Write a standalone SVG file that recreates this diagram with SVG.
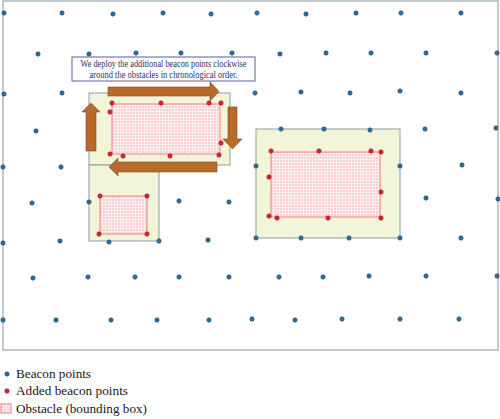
<svg xmlns="http://www.w3.org/2000/svg" width="500" height="419" viewBox="0 0 500 419">
<defs>
<pattern id="grid" width="3" height="3" patternUnits="userSpaceOnUse">
<rect width="3" height="3" fill="#fbcfd2"/>
<path d="M0 0.5H3M0.5 0V3" stroke="#fff4f4" stroke-width="0.9"/>
</pattern>
<style>
.frame{fill:#fff;stroke:#aab8c2;stroke-width:1.5}
.box{fill:#f3f5d9;stroke:#8d9ca3;stroke-width:1}
.obs{fill:url(#grid);stroke:#f07f85;stroke-width:1}
.b{fill:#2d6e9b;stroke:#1d4a6b;stroke-width:0.6}
.r{fill:#e3202c;stroke:#8a1a20;stroke-width:0.6}
.arrow{fill:#b76a29;stroke:#7d4a1e;stroke-width:0.6}
.note{fill:#fff;stroke:#5c5f9a;stroke-width:1}
.nt{font-family:"Liberation Serif",serif;font-size:9.5px;fill:#2b3066;text-anchor:middle}
.lg{font-family:"Liberation Serif",serif;font-size:13px;fill:#1a1718}
</style>
</defs>
<rect class="frame" x="3" y="1" width="495" height="349"/>
<g id="obstacle-box-upper"><rect class="box" x="89" y="93" width="141" height="72"/></g>
<g id="obstacle-box-lower"><rect class="box" x="89" y="165" width="70" height="76"/></g>
<g id="obstacle-box-right"><rect class="box" x="256" y="129" width="144" height="109"/></g>
<g id="obstacle-upper"><rect class="obs" x="112" y="104" width="108" height="50"/></g>
<g id="obstacle-lower"><rect class="obs" x="100" y="196" width="47" height="38"/></g>
<g id="obstacle-right"><rect class="obs" x="271" y="152" width="109" height="65"/></g>
<g id="beacons">
<circle class="b" cx="4" cy="13" r="2.2"/><circle class="b" cx="62" cy="13" r="2.2"/><circle class="b" cx="113" cy="14" r="2.2"/><circle class="b" cx="163" cy="13" r="2.2"/><circle class="b" cx="211" cy="14" r="2.2"/><circle class="b" cx="257" cy="13" r="2.2"/><circle class="b" cx="306" cy="14" r="2.2"/><circle class="b" cx="356" cy="13" r="2.2"/><circle class="b" cx="401" cy="13" r="2.2"/><circle class="b" cx="461" cy="13" r="2.2"/>
<circle class="b" cx="38" cy="54" r="2.2"/><circle class="b" cx="89" cy="54" r="2.2"/><circle class="b" cx="136" cy="53" r="2.2"/><circle class="b" cx="181" cy="53" r="2.2"/><circle class="b" cx="232" cy="53" r="2.2"/><circle class="b" cx="280" cy="54" r="2.2"/><circle class="b" cx="326" cy="53" r="2.2"/><circle class="b" cx="371" cy="53" r="2.2"/><circle class="b" cx="426" cy="53" r="2.2"/><circle class="b" cx="497" cy="53" r="2.2"/>
<circle class="b" cx="4" cy="94" r="2.2"/><circle class="b" cx="62" cy="93" r="2.2"/><circle class="b" cx="255" cy="93" r="2.2"/><circle class="b" cx="301" cy="92" r="2.2"/><circle class="b" cx="350" cy="93" r="2.2"/><circle class="b" cx="400" cy="91" r="2.2"/><circle class="b" cx="461" cy="93" r="2.2"/>
<circle class="b" cx="36" cy="131" r="2.2"/><circle class="b" cx="281" cy="129" r="2.2"/><circle class="b" cx="324" cy="129" r="2.2"/><circle class="b" cx="370" cy="130" r="2.2"/><circle class="b" cx="425" cy="129" r="2.2"/><circle class="b" cx="496" cy="128" r="2.2"/>
<circle class="b" cx="3" cy="167" r="2.2"/><circle class="b" cx="61" cy="167" r="2.2"/><circle class="b" cx="256" cy="166" r="2.2"/><circle class="b" cx="400" cy="166" r="2.2"/><circle class="b" cx="462" cy="165" r="2.2"/>
<circle class="b" cx="32" cy="203" r="2.2"/><circle class="b" cx="89" cy="202" r="2.2"/><circle class="b" cx="179" cy="201" r="2.2"/><circle class="b" cx="229" cy="202" r="2.2"/><circle class="b" cx="426" cy="198" r="2.2"/><circle class="b" cx="498" cy="199" r="2.2"/>
<circle class="b" cx="3" cy="243" r="2.2"/><circle class="b" cx="60" cy="241" r="2.2"/><circle class="b" cx="109" cy="242" r="2.2"/><circle class="b" cx="159" cy="241" r="2.2"/><circle class="b" cx="208" cy="240" r="2.2"/><circle class="b" cx="256" cy="238" r="2.2"/><circle class="b" cx="301" cy="238" r="2.2"/><circle class="b" cx="349" cy="238" r="2.2"/><circle class="b" cx="400" cy="238" r="2.2"/><circle class="b" cx="461" cy="238" r="2.2"/>
<circle class="b" cx="33" cy="278" r="2.2"/><circle class="b" cx="88" cy="277" r="2.2"/><circle class="b" cx="135" cy="277" r="2.2"/><circle class="b" cx="179" cy="277" r="2.2"/><circle class="b" cx="229" cy="277" r="2.2"/><circle class="b" cx="279" cy="277" r="2.2"/><circle class="b" cx="323" cy="277" r="2.2"/><circle class="b" cx="369" cy="276" r="2.2"/><circle class="b" cx="426" cy="276" r="2.2"/><circle class="b" cx="497" cy="276" r="2.2"/>
<circle class="b" cx="3" cy="320" r="2.2"/><circle class="b" cx="56" cy="320" r="2.2"/><circle class="b" cx="111" cy="320" r="2.2"/><circle class="b" cx="157" cy="320" r="2.2"/><circle class="b" cx="209" cy="320" r="2.2"/><circle class="b" cx="252" cy="319" r="2.2"/><circle class="b" cx="295" cy="320" r="2.2"/><circle class="b" cx="342" cy="319" r="2.2"/><circle class="b" cx="400" cy="319" r="2.2"/><circle class="b" cx="459" cy="319" r="2.2"/>
</g>
<g id="added-beacons">
<circle class="r" cx="112" cy="103" r="2.2"/><circle class="r" cx="161" cy="103" r="2.2"/><circle class="r" cx="209" cy="103" r="2.2"/><circle class="r" cx="221" cy="103" r="2.2"/><circle class="r" cx="110" cy="112" r="2.2"/><circle class="r" cx="221" cy="143" r="2.2"/><circle class="r" cx="110" cy="154" r="2.2"/><circle class="r" cx="123" cy="156" r="2.2"/><circle class="r" cx="170" cy="156" r="2.2"/><circle class="r" cx="219" cy="155" r="2.2"/>
<circle class="r" cx="100" cy="196" r="2.2"/><circle class="r" cx="147" cy="196" r="2.2"/><circle class="r" cx="99" cy="234" r="2.2"/><circle class="r" cx="147" cy="234" r="2.2"/>
<circle class="r" cx="271" cy="151" r="2.2"/><circle class="r" cx="319" cy="151" r="2.2"/><circle class="r" cx="371" cy="151" r="2.2"/><circle class="r" cx="381" cy="152" r="2.2"/><circle class="r" cx="269" cy="177" r="2.2"/><circle class="r" cx="381" cy="192" r="2.2"/><circle class="r" cx="269" cy="216" r="2.2"/><circle class="r" cx="277" cy="218" r="2.2"/><circle class="r" cx="328" cy="218" r="2.2"/><circle class="r" cx="381" cy="218" r="2.2"/>
</g>
<g id="connectors">
<polygon class="arrow" points="108,87 210,87 210,82 219,91.5 210,101 210,96 108,96"/>
<polygon class="arrow" points="228,107 237,107 237,139 242,139 232.5,149 223,139 228,139"/>
<polygon class="arrow" points="217,162 118,162 118,158 109,167 118,176 118,172 217,172"/>
<polygon class="arrow" points="86,151 86,112 82,112 91,103 100,112 96,112 96,151"/>
</g>
<g id="note">
<rect class="note" x="72" y="57" width="183" height="24"/>
<text class="nt" x="163.5" y="67" textLength="166" lengthAdjust="spacingAndGlyphs">We deploy the additional beacon points clockwise</text>
<text class="nt" x="163.5" y="78" textLength="148" lengthAdjust="spacingAndGlyphs">around the obstacles in chronological order.</text>
</g>
<g id="legend">
<circle class="b" cx="7" cy="374" r="2.2"/>
<text class="lg" x="16" y="378" textLength="75" lengthAdjust="spacingAndGlyphs">Beacon points</text>
<circle class="r" cx="7" cy="391" r="2.2"/>
<text class="lg" x="16" y="395" textLength="112" lengthAdjust="spacingAndGlyphs">Added beacon points</text>
<rect class="obs" x="1" y="404" width="10" height="9"/>
<text class="lg" x="16" y="413" textLength="131" lengthAdjust="spacingAndGlyphs">Obstacle (bounding box)</text>
</g>
</svg>
